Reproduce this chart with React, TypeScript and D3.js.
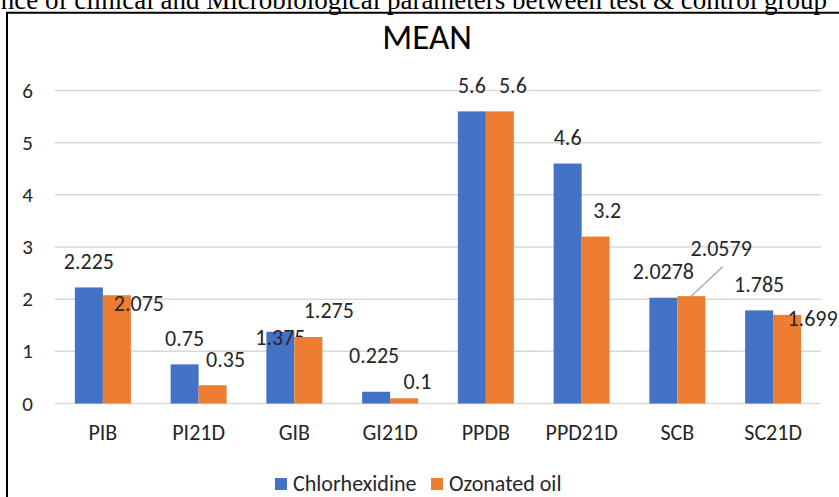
import React, { useEffect, useRef } from 'react';
import * as d3 from 'd3';

const width = 839;
const height = 497;
const plot = { left: 55, right: 821, top: 90.5, bottom: 403.5 };

const categories = ['PIB', 'PI21D', 'GIB', 'GI21D', 'PPDB', 'PPD21D', 'SCB', 'SC21D'];
const seriesNames = ['Chlorhexidine', 'Ozonated oil'];
const chlorhexidine = [2.225, 0.75, 1.375, 0.225, 5.6, 4.6, 2.0278, 1.785];
const ozonatedOil = [2.075, 0.35, 1.275, 0.1, 5.6, 3.2, 2.0579, 1.699];
const yTicks = [0, 1, 2, 3, 4, 5, 6];
const colors = ['#4472C4', '#ED7D31'];

// label nudges (dx from bar centre, dy of baseline from bar top), like the moved labels in the original
const labelNudges = [
  [[0, -18.5], [0, -18.4], [0, 13.5], [-2, -28.5], [0, -18.6], [0, -18.5], [0, -18.4], [0, -18.7]],
  [[22, 16], [13, -18.5], [20.4, -18.7], [13.4, -9], [13, -18.6], [11.6, -18.4], [29.8, -40.4], [25.4, 11]],
];

const font = 'Carlito, Lato, sans-serif';
const textColor = '#262626';

export default function App() {
  const ref = useRef<SVGSVGElement>(null);

  useEffect(() => {
    if (!ref.current) return;
    const svg = d3.select(ref.current);
    svg.selectAll('*').remove();

    const values = [chlorhexidine, ozonatedOil];

    const x0 = d3.scaleBand<string>().domain(categories).range([plot.left, plot.right]);
    const x1 = d3
      .scaleBand<string>()
      .domain(seriesNames)
      .range([0, x0.bandwidth()])
      .paddingOuter(0.71);
    const y = d3.scaleLinear().domain([0, 6]).range([plot.bottom, plot.top]);

    // caption of the page, cut by the crop
    svg
      .append('text')
      .attr('x', 827)
      .attr('y', 9)
      .attr('text-anchor', 'end')
      .style('font-family', '"Liberation Serif", "Times New Roman", serif')
      .style('font-size', '27px')
      .attr('fill', '#000')
      .text('Difference of clinical and Microbiological parameters between test & control group');

    // chart frame
    svg
      .append('path')
      .attr('d', `M7,${height + 5}V12.7H${width + 5}`)
      .attr('fill', 'none')
      .attr('stroke', '#000')
      .attr('stroke-width', 2);

    svg
      .append('text')
      .attr('x', 427)
      .attr('y', 49)
      .attr('text-anchor', 'middle')
      .style('font-family', font)
      .style('font-size', '35px')
      .attr('fill', '#000')
      .text('MEAN');

    // gridlines
    svg
      .append('g')
      .selectAll('line')
      .data(yTicks)
      .enter()
      .append('line')
      .attr('x1', plot.left)
      .attr('x2', plot.right)
      .attr('y1', (d) => y(d))
      .attr('y2', (d) => y(d))
      .attr('stroke', '#d9d9d9')
      .attr('stroke-width', 1.5);

    // y axis labels
    svg
      .append('g')
      .selectAll('text')
      .data(yTicks)
      .enter()
      .append('text')
      .attr('x', 33)
      .attr('y', (d) => y(d) + 7)
      .attr('text-anchor', 'end')
      .style('font-family', font)
      .style('font-size', '21px')
      .attr('fill', textColor)
      .text((d) => d);

    // x axis labels
    svg
      .append('g')
      .selectAll('text')
      .data(categories)
      .enter()
      .append('text')
      .attr('x', (d) => (x0(d) ?? 0) + x0.bandwidth() / 2)
      .attr('y', 440)
      .attr('text-anchor', 'middle')
      .style('font-family', font)
      .style('font-size', '22px')
      .attr('fill', textColor)
      .text((d) => d);

    // bars + labels
    seriesNames.forEach((name, s) => {
      const rows = categories.map((c, i) => ({ c, i, v: values[s][i] }));
      const g = svg.append('g');
      const cx = (d: { c: string }) => (x0(d.c) ?? 0) + (x1(name) ?? 0) + x1.bandwidth() / 2;

      g.selectAll('rect')
        .data(rows)
        .enter()
        .append('rect')
        .attr('x', (d) => (x0(d.c) ?? 0) + (x1(name) ?? 0))
        .attr('y', (d) => y(d.v))
        .attr('width', x1.bandwidth())
        .attr('height', (d) => y(0) - y(d.v))
        .attr('fill', colors[s]);

      // leader line for the far-moved label
      rows.forEach((d) => {
        const [dx, dy] = labelNudges[s][d.i];
        if (dy < -30) {
          g.append('line')
            .attr('x1', cx(d) + dx + 1.5)
            .attr('y1', y(d.v) + dy + 11)
            .attr('x2', cx(d) - 0.7)
            .attr('y2', y(d.v) + 0.6)
            .attr('stroke', '#a6a6a6')
            .attr('stroke-width', 1.3);
        }
      });

      g.selectAll('text')
        .data(rows)
        .enter()
        .append('text')
        .attr('x', (d) => cx(d) + labelNudges[s][d.i][0])
        .attr('y', (d) => y(d.v) + labelNudges[s][d.i][1])
        .attr('text-anchor', 'middle')
        .style('font-family', font)
        .style('font-size', '22px')
        .attr('fill', textColor)
        .text((d) => d.v);
    });

    // legend
    const legendX = [275, 431];
    const legend = svg
      .append('g')
      .selectAll('g')
      .data(seriesNames)
      .enter()
      .append('g')
      .attr('transform', (_, i) => `translate(${legendX[i]}, 478)`);
    legend
      .append('rect')
      .attr('width', 12)
      .attr('height', 12)
      .attr('fill', (_, i) => colors[i]);
    legend
      .append('text')
      .attr('x', 18)
      .attr('y', 13)
      .style('font-family', font)
      .style('font-size', '22px')
      .attr('fill', textColor)
      .text((d) => d);
  }, []);

  return (
    <svg
      ref={ref}
      width={width}
      height={height}
      style={{ position: 'absolute', left: 0, top: 0, background: '#fff' }}
    />
  );
}
